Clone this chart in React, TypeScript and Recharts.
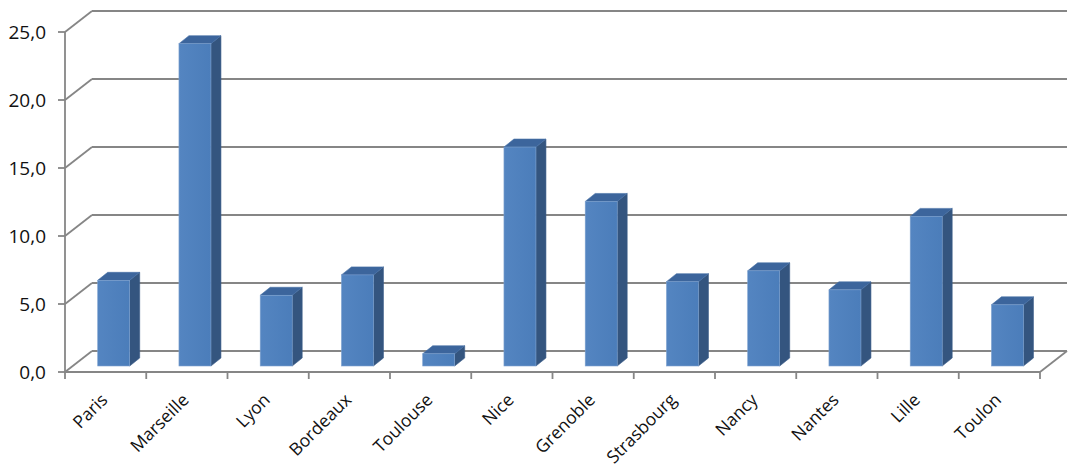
import React from 'react';
import { BarChart, Bar, XAxis, YAxis, CartesianGrid } from 'recharts';

const cities = ['Paris', 'Marseille', 'Lyon', 'Bordeaux', 'Toulouse', 'Nice', 'Grenoble', 'Strasbourg', 'Nancy', 'Nantes', 'Lille', 'Toulon'];
const values = [6.3, 23.7, 5.2, 6.7, 0.9, 16.1, 12.1, 6.2, 7.0, 5.6, 11.0, 4.5];
const yTicks = [0, 5, 10, 15, 20, 25];

const data = cities.map((city, i) => ({ city, value: values[i] }));

const CW = 1086;
const CH = 475;
const M_TOP = 32;
const M_RIGHT = 46;
const XAXIS_H = 103;
const YAXIS_W = 65;
const PLOT_BOTTOM = CH - XAXIS_H;

// oblique depth offsets
const WALL_DX = 27;
const WALL_DY = -21;
const BAR_DX0 = 7.7;
const BAR_DY0 = -6;
const BAR_DD = 10;
const BAR_DE = 8;

const GRID = '#868686';
const FONT = '"Open Sans", "DejaVu Sans", sans-serif';

const fmt = (v: number) => v.toFixed(1).replace('.', ',');

const GridLine = (p: any) => {
  const { x1, y1, x2 } = p;
  const isFloor = Math.abs(y1 - PLOT_BOTTOM) < 1;
  return (
    <g key={p.key}>
      <line x1={x1} y1={y1} x2={x1 + WALL_DX} y2={y1 + WALL_DY} stroke={GRID} strokeWidth={1.8} />
      <line x1={x1 + WALL_DX} y1={y1 + WALL_DY} x2={x2 + WALL_DX} y2={y1 + WALL_DY} stroke={GRID} strokeWidth={1.8} />
      {isFloor && (
        <line x1={x2} y1={y1} x2={x2 + WALL_DX} y2={y1 + WALL_DY} stroke={GRID} strokeWidth={1.8} />
      )}
    </g>
  );
};

const XTick = (props: any) => {
  const { x, y, payload, width, visibleTicksCount, index } = props;
  const band = width && visibleTicksCount ? width / visibleTicksCount : (payload.offset ? payload.offset * 2 : 81);
  const left = x - band / 2;
  const right = x + band / 2;
  const ax = x + 3;
  const ay = y + 29;
  return (
    <g>
      <line x1={left} y1={y} x2={left} y2={y + 7} stroke={GRID} strokeWidth={1.8} />
      {index === visibleTicksCount - 1 && (
        <line x1={right} y1={y} x2={right} y2={y + 7} stroke={GRID} strokeWidth={1.8} />
      )}
      <text
        x={ax}
        y={ay}
        textAnchor="end"
        transform={`rotate(-45, ${ax}, ${ay})`}
        fontFamily={FONT}
        fontSize={17.5}
        fill="#111"
      >
        {payload.value}
      </text>
    </g>
  );
};

const Bar3D = (p: any) => {
  const { x, y, width, height } = p;
  if (width == null || height == null) return null;
  const fx = x + BAR_DX0;
  const fy = y + BAR_DY0;
  const w = width;
  const h = height;
  const top = `${fx},${fy} ${fx + BAR_DD},${fy - BAR_DE} ${fx + w + BAR_DD},${fy - BAR_DE} ${fx + w},${fy}`;
  const side = `${fx + w},${fy} ${fx + w + BAR_DD},${fy - BAR_DE} ${fx + w + BAR_DD},${fy + h - BAR_DE} ${fx + w},${fy + h}`;
  return (
    <g>
      <polygon points={side} fill="#34557F" stroke="#3a5d8a" strokeWidth={0.6} />
      <polygon points={top} fill="#3C659C" stroke="#4670a6" strokeWidth={0.6} />
      <rect x={fx} y={fy} width={w} height={h} fill="url(#frontGrad)" stroke="#7fa2cf" strokeWidth={0.6} />
    </g>
  );
};

export default function App() {
  return (
    <div style={{ position: 'absolute', left: 0, top: 0, width: CW, height: CH, background: '#fff' }}>
      <BarChart
        width={CW}
        height={CH}
        data={data}
        margin={{ top: M_TOP, right: M_RIGHT, bottom: 0, left: 0 }}
        barSize={32}
      >
        <defs>
          <linearGradient id="frontGrad" x1="0" y1="0" x2="1" y2="0">
            <stop offset="0%" stopColor="#5485c1" />
            <stop offset="100%" stopColor="#4b7dba" />
          </linearGradient>
        </defs>
        <CartesianGrid vertical={false} horizontal={GridLine} />
        <XAxis
          dataKey="city"
          height={XAXIS_H}
          interval={0}
          tickSize={0}
          tickMargin={0}
          tickLine={false}
          axisLine={{ stroke: GRID, strokeWidth: 1.8 }}
          tick={<XTick />}
        />
        <YAxis
          width={YAXIS_W}
          domain={[0, 25]}
          ticks={yTicks}
          interval={0}
          tickFormatter={fmt}
          tickSize={7}
          tickMargin={12}
          tickLine={{ stroke: GRID, strokeWidth: 1.8 }}
          axisLine={{ stroke: GRID, strokeWidth: 1.8 }}
          tick={{ fontFamily: FONT, fontSize: 19, fill: '#111' }}
        />
        <Bar dataKey="value" isAnimationActive={false} shape={Bar3D} />
      </BarChart>
    </div>
  );
}
